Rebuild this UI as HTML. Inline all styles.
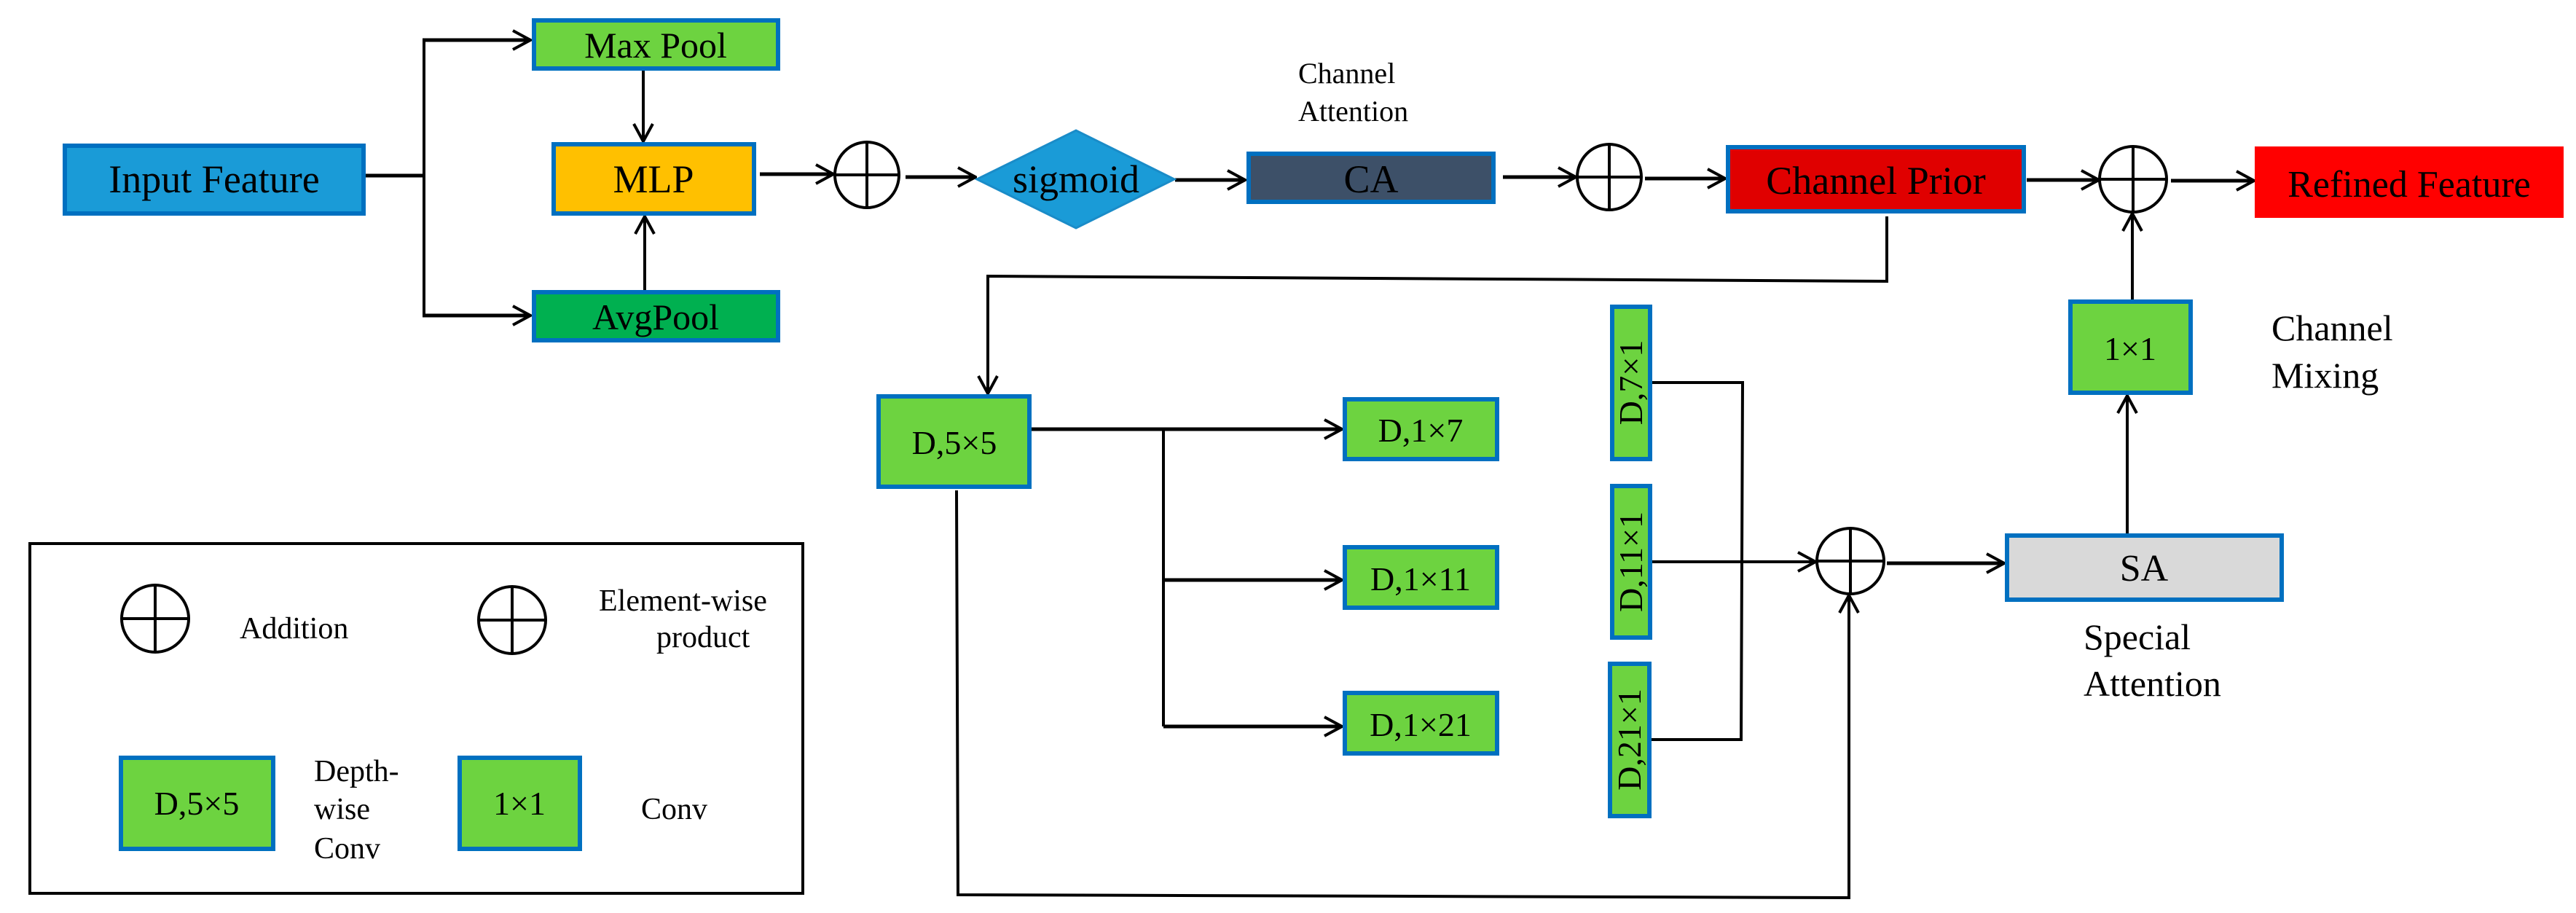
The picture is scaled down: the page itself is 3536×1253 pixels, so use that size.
<!DOCTYPE html>
<html><head><meta charset="utf-8"><style>
html,body{margin:0;padding:0;background:#fff;}
svg{display:block;}
svg text{font-family:"Liberation Serif","Times New Roman","DejaVu Serif",serif;fill:#000;}
</style></head><body>
<svg width="3536" height="1253" viewBox="0 0 3536 1253" xmlns="http://www.w3.org/2000/svg" font-family="Liberation Serif, Times New Roman, DejaVu Serif, serif">
<defs>
<marker id="a" viewBox="0 0 30 30" refX="28" refY="15" markerWidth="30" markerHeight="30" markerUnits="userSpaceOnUse" orient="auto">
<polyline points="4,2 28,15 4,28" fill="none" stroke="#000" stroke-width="4"/>
</marker>
</defs>
<rect width="3536" height="1253" fill="#fff"/>
<g fill="none" stroke="#000" stroke-width="5">
<line x1="502" y1="241" x2="584" y2="241"/>
<line x1="582" y1="55" x2="582" y2="433" stroke-width="4"/>
<line x1="580" y1="55" x2="728" y2="55" marker-end="url(#a)"/>
<line x1="580" y1="433" x2="728" y2="433" marker-end="url(#a)"/>
<line x1="883" y1="96" x2="883" y2="194" stroke-width="4" marker-end="url(#a)"/>
<line x1="885" y1="399" x2="885" y2="297" stroke-width="4" marker-end="url(#a)"/>
<line x1="1043" y1="239" x2="1144" y2="239" marker-end="url(#a)"/>
<line x1="1243" y1="243" x2="1339" y2="243" marker-end="url(#a)"/>
<line x1="1613" y1="247" x2="1709" y2="247" marker-end="url(#a)"/>
<line x1="2063" y1="243" x2="2163" y2="243" marker-end="url(#a)"/>
<line x1="2258" y1="245" x2="2368" y2="245" marker-end="url(#a)"/>
<line x1="2782" y1="247" x2="2881" y2="247" marker-end="url(#a)"/>
<line x1="2980" y1="248" x2="3094" y2="248" marker-end="url(#a)"/>
<polyline points="2590,297 2590,386 1356,379 1356,540" stroke-width="4" marker-end="url(#a)"/>
<line x1="1415" y1="589" x2="1842" y2="589" marker-end="url(#a)"/>
<line x1="1597" y1="589" x2="1597" y2="997" stroke-width="4"/>
<line x1="1597" y1="796" x2="1842" y2="796" marker-end="url(#a)"/>
<line x1="1597" y1="997" x2="1842" y2="997" marker-end="url(#a)"/>
<polyline points="2267,525 2392,525 2390,1015 2266,1015" stroke-width="4"/>
<line x1="2267" y1="771" x2="2492" y2="771" stroke-width="4" marker-end="url(#a)"/>
<polyline points="1313,673 1315,1228 2538,1232 2538,817" stroke-width="4" marker-end="url(#a)"/>
<line x1="2590" y1="773" x2="2751" y2="773" marker-end="url(#a)"/>
<line x1="2920" y1="733" x2="2920" y2="543" stroke-width="4" marker-end="url(#a)"/>
<line x1="2927" y1="412" x2="2927" y2="293" stroke-width="4" marker-end="url(#a)"/>
</g>
<g fill="none" stroke="#000" stroke-width="4">
<ellipse cx="1190" cy="240" rx="44" ry="45"/><line x1="1146" y1="240" x2="1234" y2="240"/><line x1="1190" y1="195" x2="1190" y2="285"/>
<ellipse cx="2209" cy="243" rx="44" ry="45"/><line x1="2165" y1="243" x2="2253" y2="243"/><line x1="2209" y1="198" x2="2209" y2="288"/>
<ellipse cx="2928" cy="246" rx="46" ry="45"/><line x1="2882" y1="246" x2="2974" y2="246"/><line x1="2928" y1="201" x2="2928" y2="291"/>
<ellipse cx="2540" cy="770" rx="46" ry="45"/><line x1="2494" y1="770" x2="2586" y2="770"/><line x1="2540" y1="725" x2="2540" y2="815"/>
<ellipse cx="213" cy="849" rx="46" ry="46"/><line x1="167" y1="849" x2="259" y2="849"/><line x1="213" y1="803" x2="213" y2="895"/>
<ellipse cx="703" cy="851" rx="46" ry="46"/><line x1="657" y1="851" x2="749" y2="851"/><line x1="703" y1="805" x2="703" y2="897"/>
</g>
<g stroke="#0070c0" stroke-width="6">
<rect x="89" y="200" width="410" height="93" fill="#1a9bd7"/>
<rect x="733" y="28" width="335" height="66" fill="#6dd340"/>
<rect x="760" y="198" width="275" height="95" fill="#ffc000"/>
<rect x="733" y="401" width="335" height="66" fill="#00b050"/>
<polygon points="1341,246 1477,179 1612,246 1477,313" fill="#1a9bd7" stroke="#1a8cc8" stroke-width="3"/>
<rect x="1714" y="211" width="336" height="66" fill="#3d5068"/>
<rect x="2372" y="202" width="406" height="88" fill="#e00000"/>
<rect x="3098" y="204" width="418" height="92" fill="#ff0000" stroke="#ff0000"/>
<rect x="1206" y="544" width="207" height="124" fill="#6dd340"/>
<rect x="1846" y="548" width="209" height="82" fill="#6dd340"/>
<rect x="1846" y="751" width="209" height="83" fill="#6dd340"/>
<rect x="1846" y="951" width="209" height="83" fill="#6dd340"/>
<rect x="2213" y="421" width="52" height="209" fill="#6dd340"/>
<rect x="2213" y="667" width="52" height="208" fill="#6dd340"/>
<rect x="2210" y="911" width="54" height="209" fill="#6dd340"/>
<rect x="2842" y="414" width="165" height="125" fill="#6dd340"/>
<rect x="2755" y="735" width="377" height="88" fill="#d9d9d9"/>
<rect x="166" y="1040" width="209" height="125" fill="#6dd340"/>
<rect x="631" y="1040" width="165" height="125" fill="#6dd340"/>
</g>
<rect x="41" y="746" width="1061" height="480" fill="none" stroke="#000" stroke-width="4"/>
<g font-size="54" text-anchor="middle">
<text x="294" y="264">Input Feature</text>
<text x="900" y="79" font-size="50">Max Pool</text>
<text x="897" y="264">MLP</text>
<text x="900" y="452" font-size="50">AvgPool</text>
<text x="1477" y="264">sigmoid</text>
<text x="1882" y="264">CA</text>
<text x="2575" y="266">Channel Prior</text>
<text x="3307" y="270" font-size="52">Refined Feature</text>
<text x="1310" y="623" font-size="46">D,5×5</text>
<text x="1950" y="606" font-size="46">D,1×7</text>
<text x="1950" y="810" font-size="46">D,1×11</text>
<text x="1950" y="1010" font-size="46">D,1×21</text>
<text x="2924" y="494" font-size="46">1×1</text>
<text x="2943" y="797" font-size="52">SA</text>
<text x="270" y="1118" font-size="46">D,5×5</text>
<text x="713" y="1118" font-size="46">1×1</text>
</g>
<g font-size="46">
<text transform="translate(2254,525) rotate(-90)" text-anchor="middle">D,7×1</text>
<text transform="translate(2254,771) rotate(-90)" text-anchor="middle">D,11×1</text>
<text transform="translate(2252,1015) rotate(-90)" text-anchor="middle">D,21×1</text>
</g>
<g font-size="40">
<text x="1782" y="114">Channel</text>
<text x="1782" y="166">Attention</text>
</g>
<g font-size="50">
<text x="3118" y="467">Channel</text>
<text x="3118" y="532">Mixing</text>
<text x="2860" y="891">Special</text>
<text x="2860" y="955">Attention</text>
</g>
<g font-size="42">
<text x="329" y="876">Addition</text>
<text x="822" y="838">Element-wise</text>
<text x="901" y="888">product</text>
<text x="431" y="1072">Depth-</text>
<text x="431" y="1124">wise</text>
<text x="431" y="1178">Conv</text>
<text x="880" y="1124">Conv</text>
</g>
</svg>
</body></html>
